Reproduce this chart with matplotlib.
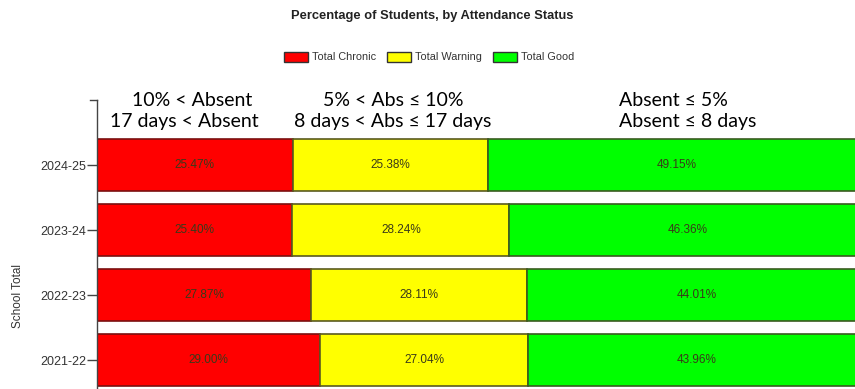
import matplotlib
matplotlib.use("Agg")
import matplotlib.pyplot as plt
from matplotlib.patches import Patch

years = ["2021-22", "2022-23", "2023-24", "2024-25"]
chronic = [29.00, 27.87, 25.40, 25.47]
warning = [27.04, 28.11, 28.24, 25.38]
good = [43.96, 44.01, 46.36, 49.15]
series_names = ["Total Chronic", "Total Warning", "Total Good"]
series_colors = ["#ff0000", "#ffff00", "#00ff00"]
edge_colors = ["#7a1010", "#5a5a20", "#3a5a20"]

sans = ["Liberation Sans", "DejaVu Sans"]

fig = plt.figure(figsize=(8.55, 3.89), dpi=100)
ax = fig.add_axes([97/855, 0, (866-97)/855, (389-100)/389])

pos = list(range(len(years)))
left = [0]*len(years)
for vals, name, col, ec in zip([chronic, warning, good], series_names, series_colors, edge_colors):
    ax.barh(pos, vals, left=left, height=0.8, color=col, edgecolor=ec, linewidth=1.2, label=name)
    for p, v, l in zip(pos, vals, left):
        ax.text(l + v/2, p, f"{v:.2f}%", ha="center", va="center", fontsize=8.5,
                color="#3a3a1a", family=sans)
    left = [a + b for a, b in zip(left, vals)]

ax.set_xlim(0, 100)
ax.set_ylim(-0.446, 4.0)
ax.set_yticks(pos)
ax.set_yticklabels(years, fontsize=9, color="#333333", family=sans)
ax.tick_params(axis="y", length=7, width=1, color="#444444", pad=1)
ax.set_xticks([])
for s in ["top", "right", "bottom"]:
    ax.spines[s].set_visible(False)
ax.spines["left"].set_color("#444444")
ax.spines["left"].set_linewidth(1)
ax.plot([-0.9, 0], [4.0, 4.0], color="#444444", lw=1, clip_on=False)

fig.text(18/855, 1 - 296/389, "School Total", rotation=90, ha="center", va="center",
         fontsize=8.5, color="#333333", family=sans)

fig.text(432/855, 1 - 16/389, "Percentage of Students, by Attendance Status", ha="center", va="center",
         fontsize=9.3, fontweight="bold", color="#222222", family=sans)

handles = [Patch(facecolor=c, edgecolor="#333333", linewidth=1) for c in series_colors]
fig.legend(handles, series_names, loc="center", bbox_to_anchor=(429/855, 1 - 57/389), ncol=3,
           frameon=False, prop={"family": sans, "size": 7.8}, handlelength=2.2, handleheight=1.1,
           columnspacing=1.0, handletextpad=0.4, labelcolor="#333333")

lato = ["Lato", "DejaVu Sans"]
fs = 14
fig.text(192/855, 1 - 100/389, "10% < Absent", ha="center", va="center", fontsize=fs, family=lato)
fig.text(184/855, 1 - 121/389, "17 days < Absent", ha="center", va="center", fontsize=fs, family=lato)
fig.text(393/855, 1 - 100/389, "5% < Abs \u2264 10%", ha="center", va="center", fontsize=fs, family=lato)
fig.text(393/855, 1 - 121/389, "8 days < Abs \u2264 17 days", ha="center", va="center", fontsize=fs, family=lato)
fig.text(619/855, 1 - 100/389, "Absent \u2264 5%", ha="left", va="center", fontsize=fs, family=lato)
fig.text(619/855, 1 - 121/389, "Absent \u2264 8 days", ha="left", va="center", fontsize=fs, family=lato)

fig.savefig("out.png", dpi=100)
